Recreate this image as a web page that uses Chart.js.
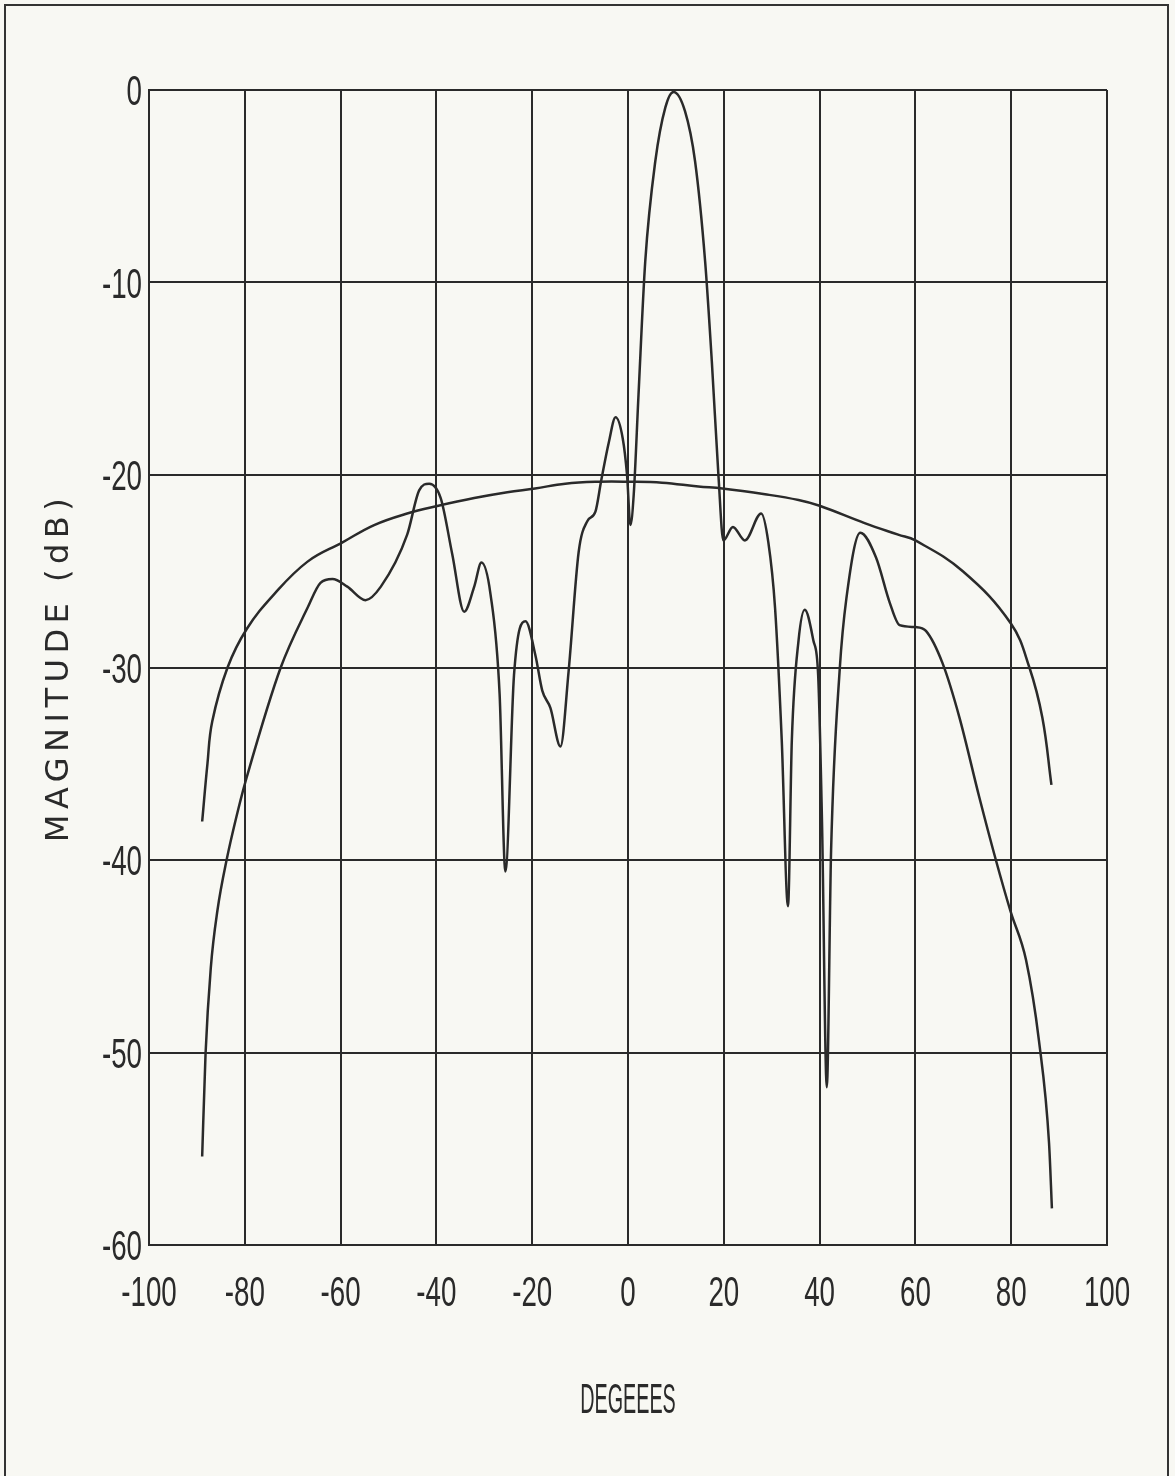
<!DOCTYPE html>
<html>
<head>
<meta charset="utf-8">
<script src="https://cdn.jsdelivr.net/npm/chart.js@4"></script>
<style>
    html, body { margin: 0; padding: 0; background: #f8f8f3; overflow: hidden; }
    #wrap { position: relative; width: 1175px; height: 1476px; }
    #frame {
        position: absolute; left: 4px; top: 4px; width: 1161px; height: 1520px;
        border: 2px solid #333; pointer-events: none;
    }
</style>
</head>
<body>
<div id="wrap">
    <canvas id="chart" width="1175" height="1476"></canvas>
    <div id="frame"></div>
</div>
<script>
// array pattern (degrees / dB)
const patternDeg = [-88.9, -88.2, -87.1, -85.7, -83.8, -80.9, -79.6, -72.5, -66.9, -64.2, -61.7, -58.6, -54.8, -51.6,
    -46.1, -43.6, -41.5, -39.1, -36.7, -34.2, -32.1, -30.6, -28.7, -26.8, -25.6, -23.8, -21.4, -19.3, -17.9, -16.2,
    -14.1, -12.4, -10.3, -8.5, -6.8, -5.6, -4.0, -2.6, -1.1, -0.2, 0.5, 1.2, 2.2, 3.6, 5.7, 7.8, 9.5, 11.9, 14.0,
    16.1, 17.5, 18.9, 19.9, 21.9, 24.4, 27.8, 29.3, 30.7, 32.1, 33.4, 34.2, 35.6, 36.9, 38.7, 39.7, 40.5, 41.5,
    42.4, 44.2, 45.6, 48.5, 51.8, 54.6, 56.7, 60.1, 62.2, 65.7, 69.2, 73.3, 76.8, 79.9, 83.1, 85.8, 87.9, 88.5];
const patternDb = [-55.4, -50.1, -45.6, -42.6, -40.0, -36.9, -35.7, -30.0, -26.9, -25.6, -25.4, -25.8, -26.5, -25.8,
    -23.1, -20.8, -20.45, -21.2, -24.1, -27.1, -25.8, -24.55, -26.2, -31.4, -40.6, -30.4, -27.6, -29.4, -31.2, -32.1,
    -34.1, -30.2, -24.0, -22.4, -21.9, -20.3, -18.3, -17.0, -18.1, -20.0, -22.6, -21.0, -15.8, -8.9, -3.7, -0.9, -0.1, -1.1, -3.7,
    -8.9, -14.1, -20.1, -23.4, -22.7, -23.4, -22.0, -23.5, -26.9, -33.8, -42.4, -33.8, -28.6, -27.0, -28.6, -30.4, -38.0, -51.8,
    -39.5, -30.1, -26.4, -23.0, -24.3, -26.6, -27.8, -27.9, -28.1, -29.8, -32.6, -36.7, -40.0, -42.7, -45.2, -49.4, -54.7, -58.1];

// element pattern envelope
const elementDeg = [-88.9, -87.8, -86.8, -83.6, -79.6, -73.9, -66.9, -59.6, -53.0, -46.1, -39.6, -32.1, -25.2, -19.4,
    -13.1, -6.1, 0, 7.1, 14.7, 19.7, 28.6, 35.6, 40, 49.4, 56.4, 60, 69.9, 79.9, 83.8, 86.5, 88.4];
const elementDb = [-38.0, -35.0, -32.8, -30.0, -28.0, -26.2, -24.5, -23.5, -22.6, -22.0, -21.6, -21.2, -20.9, -20.7,
    -20.45, -20.35, -20.35, -20.4, -20.6, -20.7, -21.0, -21.3, -21.6, -22.5, -23.1, -23.4, -25.0, -27.7, -30.0, -32.6, -36.1];

const xTitle = "DEGEEES";
const yTitle = "MAGNITUDE (dB)";

const ink = "#2a2a2a";

function toPoints(xs, ys) {
    return xs.map((x, i) => ({ x: x, y: ys[i] }));
}

// plotter style condensed text
function narrowText(ctx, text, x, y, align, squeeze) {
    ctx.save();
    ctx.translate(x, y);
    ctx.scale(squeeze, 1);
    ctx.textAlign = align;
    ctx.textBaseline = "alphabetic";
    ctx.fillText(text, 0, 0);
    ctx.restore();
}

const plotterLabels = {
    id: "plotterLabels",
    afterDraw(chart) {
        const ctx = chart.ctx;
        const xs = chart.scales.x;
        const ys = chart.scales.y;
        ctx.save();
        ctx.fillStyle = ink;
        ctx.font = '42px "Liberation Sans", Arial, sans-serif';
        xs.ticks.forEach(t => narrowText(ctx, String(t.value), xs.getPixelForValue(t.value), ys.bottom + 61, "center", 0.66));
        ys.ticks.forEach(t => narrowText(ctx, String(t.value), xs.left - 7, ys.getPixelForValue(t.value) + 15, "right", 0.66));
        narrowText(ctx, xTitle, (xs.left + xs.right) / 2, ys.bottom + 168, "center", 0.47);

        ctx.translate(68, (ys.top + ys.bottom) / 2);
        ctx.rotate(-Math.PI / 2);
        ctx.font = '32px "DejaVu Sans", sans-serif';
        ctx.letterSpacing = "5.5px";
        ctx.textAlign = "center";
        ctx.textBaseline = "alphabetic";
        ctx.fillText(yTitle, 0, 0);
        ctx.restore();
    }
};

const ctx = document.getElementById("chart").getContext("2d");

new Chart(ctx, {
    type: "line",
    data: {
        datasets: [
            {
                label: "Array pattern",
                data: toPoints(patternDeg, patternDb),
                borderColor: ink, borderWidth: 2.5, pointRadius: 0,
                cubicInterpolationMode: "monotone", fill: false
            },
            {
                label: "Element pattern",
                data: toPoints(elementDeg, elementDb),
                borderColor: ink, borderWidth: 2.5, pointRadius: 0,
                tension: 0.4, fill: false
            }
        ]
    },
    options: {
        responsive: false,
        animation: false,
        layout: { padding: { top: 90, right: 68, left: 0, bottom: 0 } },
        plugins: {
            legend: { display: false },
            tooltip: { enabled: false }
        },
        scales: {
            x: {
                type: "linear", min: -100, max: 100,
                ticks: { stepSize: 20, display: false },
                grid: { color: ink, lineWidth: 2, drawTicks: false },
                border: { color: ink, width: 2 },
                afterFit(scale) { scale.height = 231; }
            },
            y: {
                type: "linear", min: -60, max: 0,
                ticks: { stepSize: 10, display: false },
                grid: { color: ink, lineWidth: 2, drawTicks: false },
                border: { color: ink, width: 2 },
                afterFit(scale) { scale.width = 149; }
            }
        }
    },
    plugins: [plotterLabels]
});
</script>
</body>
</html>
